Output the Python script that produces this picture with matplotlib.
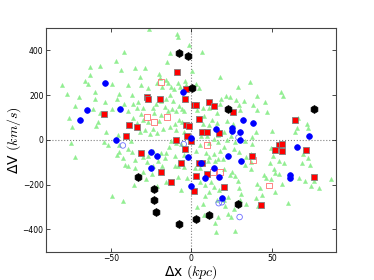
import matplotlib
matplotlib.use("Agg")
import matplotlib.pyplot as plt
import numpy as np

plt.rcParams['mathtext.fontset'] = 'cm'

# green triangles (dx kpc, dV km/s)
green_x = [-26, -8.9, -8, -1.2, 6.8, -13, -42, -47, -43.5, -56.5, -63, -63, -65.8, -64, -80, -77.5,
           -70, -72, -60, -59.5, -61, -59, -76, -74, -75, -72.4, -49, -45, -46.4, -39.4, -37, -35,
           -29, -31.5, -31.8, -27, -20, -15, -19.4, -15.7, -18, -21, -14.4, -12.8, -11, -8, -7,
           -3.7, -3.5, 0.4, 3, 4.7, 18, 28.7, 36.7, 33, 29.5, 28, 24, 18.6, 21.4, 40.6, 45.8, 55.5,
           57, 47.2, 38.4, 41, 66, 65.8, 71.8, 72.4, 64.5, 50.3, 38, 49.3, 40, 18, 11, 15.7, 7.8,
           12.8, 10.7, 16, 7.2, 22.3, 25.8, 20.6, 24.5, 33.4,
           -53.4, -49, -57, -42, -39.4, -36, -33, -34, -31.5, -30, -36, -33.6, -29.7, -26.6, -24,
           -22, -18.6, -15.7, -13.2, -11.5, -16.3, -12, -14.6, -9.5, -7.6, -6, -4.5, -23, -18.6,
           -20, -23.5, -28.7, -31.8, -25.6, -21, -17.3, -13.2, -9.5, -7.6, -10.3, -6, -4.7, -58,
           -53, -54, -51.8, -45.8, -44.7, -37.5, -39.4, -45, -42.7, -46.4, -37, -35, -35, -39.4,
           -41, -30, -27.4, -27, -23.7, -18.6, -24, -18, -20.4, -16.3, -15.5, -13.8, -9.7, -12.4,
           -6.4, -4.7, -10.3, -9.9, -4.3,
           -49, -42.5, -35.7, -30.3, -28, -24.3, -21, -15.5, -8, -6.2, -2.9, -8.2,
           2.7, 5.4, 8.9, 11, 13.8, 16.7, 17.7, 20.4, 19.6, 5.4, 2.5, 10.5, 14.8, 8.5, 12, 14.2,
           5.2, 17, 11, 8.2, 22.9, 25.4, 27, 28.9, 29.5, 30.7, 33.4, 37, 37, 37, 33.8, 29.5, 26.4,
           30.5, 34, 41.4, 40, 44, 42.9, 40.6, 45.4, 46.6, 49.5, 51.3, 48.9, 50.7, 54.4, 57.3,
           51.8, 54.4, 56.3, 52.2, 59.8, 67, 69.3, 72.6, 69, 73.8, 70.8, 74.2, 76, 79, 87, 24, 20,
           16.3, 15, 27.4, 15.3, 22.5, 24.4, 20.4, 21.2, 26.4, 7.8, 7.4, 3.5, 15.7,
           3.7, 7.4, 6.2, 13.8, 16.7, 9.5, 11, 16.3, 22.3, 27.2, 38, 30]
green_y = [494, 475, 460, 424, 394, 390, 391, 354, 312, 330, 324, 288, 262, 249, 243, 204,
           193, 151, 213, 181, 139, 63, 97, 57, -15, -75, 250, 204, 181, 244, 199, 320,
           319, 246, 283, 232, 294, 346, 276, 267, 235, 255, 252, 237, 229, 256, 237,
           262, 247, 309, 250, 231, 280, 238, 259, 174, 154, 177, 190, 184, 196, 196, 171, 213,
           196, 124, 154, 135, 99, 52, 70, 51, 34, 40, -18, -37, 37, 160, 142, 121, 108,
           91, 67, 75, 73, 84, 70, 37, 18, -4,
           168, 138, 118, 160, 130, 162, 171, 141, 117, 142, 99, 75, 88, 79, 141,
           162, 172, 184, 199, 174, 145, 139, 127, 129, 153, 136, 127, 120, 109,
           84, 49, 45, 33, 27, 30, 49, 58, 46, 90, 69, 79, 37, 79,
           36, -9, -22, 21, -25, -3, -39, -55, -79, -69, -54, -91, -127, -118,
           -111, -78, -100, -72, -48, -60, -117, -115, -94, -79, -60, -33, -16, -6,
           -19, -66, -70, -118, -120,
           -253, -274, -202, -144, -175, -153, -207, -187, -168, -225, -172, -118,
           -51, -22, -60, -76, -63, -85, -52, -33, -84, -127, -124, -96, -96, -202, -190, -210,
           -190, -226, -231, -253, -255, -144, -163, -184, -216, -243, -114, -130, -97, -63, -78, -54, -40,
           -270, -288, -297, -258, -246, -214, -198, -159, -171, -175, -129, -102, -70, -93, -103,
           -150, -154, -199, -232, -283, -172, -63, -82, -105, -111, -184, -205, -183, -213, -175, -159, -130,
           -343, -373, -407, -410, -330, -345, -270, -294, -309, -334, -288, -300, -267,
           132, 142, 19, 4, 21, 19, -12, -10, -1, -10, 15, 132]

# filled red squares
red_x = [-8.9, -3.5, -27.6, -27.2, -19.6, -4.1, 1.9, 3.1, 11, 14.4, 25.6, -54, -39, -33.6, -40.6,
         -3.5, -1.4, 5, 6.6, 9.9, 17, -9.3, -2.7, -0.2, -31.5, -4.1, -6.4, 4.5, 6.6, 9.9, -18.8,
         -12.4, 2.9, 1.9, 20, 54.6, 56.5, 52.2, 56.5, 64.3, 38, 71, 76, 43.5]
red_y = [303, 226, 190, 183, 181, 183, 157, 154, 169, 153, 124, 115, 66, 57, 16,
         66, 60, 93, 37, 33, 31, -1, 18, -7, -58, -40, -102, -102, -105, -154, -142,
         -190, -162, -229, -211, -25, -19, -45, -51, 91, -72, -46, -166, -289]

# open red squares
red_open_x = [-19, -27.6, -23, -15, 9.7, 38.4, 13.6, 17.7, 48.5]
red_open_y = [259, 102, 79, 103, -21, -91, -145, -145, -204]

# filled blue circles
blue_x = [-53.6, -65, -69, -44, -5, -47, 0, -25, -21.4, -25, -2.3, 15.3, 25, 25, 32.4, 30.3,
          38.6, 30, 22.7, 30.7, 6, 13.8, 8.2, 17, 0, 19, 73, 65.4, 61, 61]
blue_y = [253, 132, 90, 139, 213, 0, 10, -55, -72, -124, -75, 50, 55, 40, 88, 36,
          75, -1, -73, -94, -103, -127, -169, -166, -205, -262, 16, -30, -157, -171]

# open blue circles
blue_open_x = [-42.5, -4.7, 29.3, 17, 19, 30]
blue_open_y = [-25, -19, 10, -283, -279, -345]

# black hexagons
black_x = [-7.4, -2, 0.6, 22.7, 76.3, -33, -23, -23, -22, -7.4, 3, 11, 28.7]
black_y = [390, 377, 234, 139, 139, -165, -219, -270, -322, -375, -352, -337, -285]

fig = plt.figure(figsize=(3.74, 2.80), dpi=100)
ax = fig.add_axes([0.124, 0.101, 0.775, 0.799])

ax.scatter(green_x, green_y, marker='^', s=9, c='#90ee90', edgecolors='#90ee90', linewidths=0.3, zorder=2)
ax.scatter(red_open_x, red_open_y, marker='s', s=18, facecolors='none', edgecolors='#ff7070', linewidths=0.6, zorder=3)
ax.scatter(blue_open_x, blue_open_y, marker='o', s=16, facecolors='none', edgecolors='#6f6fff', linewidths=0.6, zorder=3)
ax.scatter(red_x, red_y, marker='s', s=22, c='red', edgecolors='#808080', linewidths=0.6, zorder=4)
ax.scatter(blue_x, blue_y, marker='o', s=17, c='blue', edgecolors='blue', linewidths=0.5, zorder=4)
ax.scatter(black_x, black_y, marker='h', s=32, c='black', edgecolors='black', linewidths=0.5, zorder=5)

ax.axhline(0, color='gray', linestyle=':', linewidth=0.8, zorder=1)
ax.axvline(0, color='gray', linestyle=':', linewidth=0.8, zorder=1)

ax.set_xlim(-90, 90)
ax.set_ylim(-500, 500)
ax.set_xticks([-50, 0, 50])
ax.set_yticks([-400, -200, 0, 200, 400])
ax.tick_params(direction='in', top=True, right=True, labelsize=5.5, length=3, width=0.5, pad=2)
for sp in ax.spines.values():
    sp.set_linewidth(0.8)
    sp.set_color('#444444')

ax.set_xlabel('\u0394x $(kpc)$', fontsize=10, labelpad=0)
ax.set_ylabel('\u0394V $(km/s)$', fontsize=10, labelpad=0)

fig.savefig('out.png', dpi=100)
